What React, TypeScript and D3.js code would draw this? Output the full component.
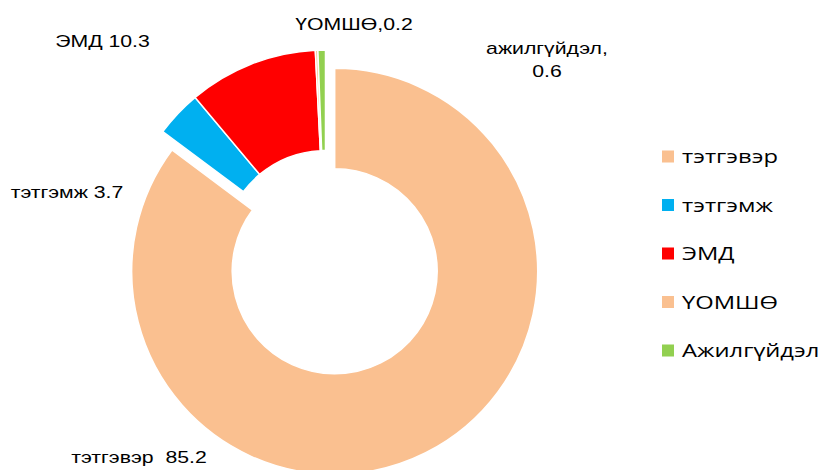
import React from 'react';
import * as d3 from 'd3';

const categories = ['тэтгэвэр', 'тэтгэмж', 'ЭМД', 'ҮОМШӨ', 'Ажилгүйдэл'];
const values = [85.2, 3.7, 10.3, 0.2, 0.6];
const labelLines = [['тэтгэвэр\u00a0\u00a085.2'], ['тэтгэмж 3.7'], ['ЭМД 10.3'], ['ҮОМШӨ,0.2'], ['ажилгүйдэл,', '0.6']];
const colors = ['#FAC090', '#00B0F0', '#FF0000', '#FAC090', '#92D050'];
const explode = [20.5, 0, 0, 0, 0];

// label layout (anchor middle, first baseline)
const labelPos: [number, number][] = [[139, 463], [67, 198], [102.5, 47], [354, 30], [547, 54]];

const W = 820, H = 470;
const cx = 325.5, cy = 253;
const outerR = 203, innerR = 102.5;
const stretch = 1.25;

export default function App() {
  const pie = d3.pie<number>().sort(null).value(d => d).startAngle(0).endAngle(2 * Math.PI);
  const arcs = pie(values);
  const arc = d3.arc<d3.PieArcDatum<number>>().innerRadius(innerR).outerRadius(outerR);
  const legendY = d3.scalePoint<string>().domain(categories).range([156.5, 350.5]);
  return (
    <svg width={W} height={H} style={{ position: 'absolute', left: 0, top: 0, background: '#fff' }}>
      <g transform={`translate(${cx},${cy})`}>
        {arcs.map((a, i) => {
          const mid = (a.startAngle + a.endAngle) / 2;
          const dx = Math.sin(mid) * explode[i];
          const dy = -Math.cos(mid) * explode[i];
          return (
            <path key={i} d={arc(a) || ''} fill={colors[i]} stroke="#fff" strokeWidth={1.5}
              transform={`translate(${dx},${dy})`} />
          );
        })}
      </g>
      {labelLines.map((lines, i) => (
        <g key={i} transform={`translate(${labelPos[i][0]},${labelPos[i][1]}) scale(${stretch},1)`}>
          <text x={0} y={0} textAnchor="middle"
            fontFamily="'Liberation Sans', Arial, sans-serif" fontSize={17} fill="#000">
            {lines.map((l, j) => (
              <tspan key={j} x={0} dy={j === 0 ? 0 : 23}>{l}</tspan>
            ))}
          </text>
        </g>
      ))}
      {categories.map((c, i) => (
        <g key={c} transform={`translate(662,${legendY(c)})`}>
          <rect x={0} y={-6} width={12} height={12} fill={colors[i]} />
          <g transform={`translate(20,0) scale(${stretch},1)`}>
            <text x={0} y={0} dy="0.35em" fontFamily="'Open Sans', sans-serif" fontSize={19} fill="#000">{c}</text>
          </g>
        </g>
      ))}
    </svg>
  );
}
